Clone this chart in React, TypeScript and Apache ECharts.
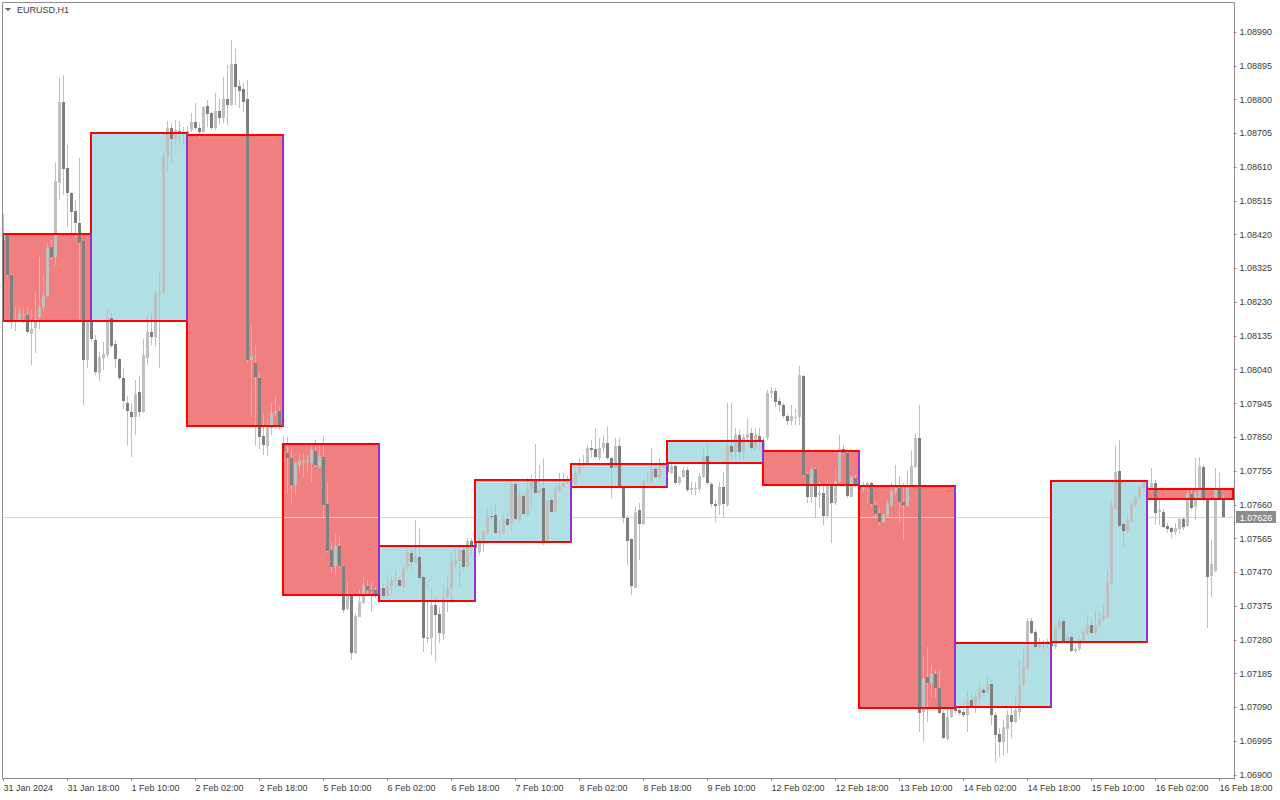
import React, { useEffect, useRef } from "react";
import * as echarts from "echarts";

// ---------- data ----------
const symbolTitle = "EURUSD,H1";
const dayNames = ["31 Jan", "1 Feb", "2 Feb", "5 Feb", "6 Feb", "7 Feb", "8 Feb", "9 Feb", "12 Feb", "13 Feb", "14 Feb", "15 Feb", "16 Feb"];
const dayFirstHour = [2, 0, 0, 0, 0, 0, 0, 0, 0, 0, 0, 0, 0];
const dayOpen = [1.08422, 1.08177, 1.087, 1.07831, 1.07389, 1.07555, 1.0771, 1.07778, 1.07811, 1.07713, 1.07091, 1.07274, 1.07704];
const dayClose = [1.08177, 1.08706, 1.07882, 1.07406, 1.07544, 1.0773, 1.07775, 1.0784, 1.07716, 1.07088, 1.07271, 1.07727, 1.07676];
const lastPrice = 1.07626;
const priceMin = 1.069;
const priceMax = 1.0899;
const priceStep = 0.00095;
const totalSlots = 308;
const labelEvery = 16;

// hourly bars: [open, close, low, high]
const bars31Jan = [
  [1.08405, 1.08425, 1.08399, 1.08478], [1.08419, 1.08306, 1.08301, 1.08425], [1.08306, 1.08177, 1.08155, 1.08312],
  [1.08177, 1.08183, 1.08149, 1.08216], [1.08177, 1.082, 1.08174, 1.08216], [1.08194, 1.08197, 1.08171, 1.08214],
  [1.08194, 1.08146, 1.08143, 1.08214], [1.08141, 1.08155, 1.08053, 1.08208], [1.08157, 1.08183, 1.08087, 1.08256],
  [1.08188, 1.08216, 1.08155, 1.08357], [1.08216, 1.08247, 1.08202, 1.08306], [1.08247, 1.08382, 1.08245, 1.08396],
  [1.08385, 1.08357, 1.08349, 1.08405], [1.08357, 1.08571, 1.08335, 1.08624], [1.08565, 1.08793, 1.08517, 1.08861],
  [1.08793, 1.08605, 1.08532, 1.08869], [1.08607, 1.08537, 1.08441, 1.08672], [1.08537, 1.08484, 1.08425, 1.0854],
  [1.08487, 1.08453, 1.08411, 1.08517], [1.08453, 1.08396, 1.0818, 1.08636], [1.08402, 1.08067, 1.07941, 1.08402],
  [1.08067, 1.08174, 1.08045, 1.08174],
];
const bars1Feb = [
  [1.08174, 1.08126, 1.08118, 1.08177], [1.08124, 1.08034, 1.08025, 1.08138], [1.08031, 1.08076, 1.08008, 1.0809],
  [1.08073, 1.08084, 1.08039, 1.08118], [1.08081, 1.08186, 1.08076, 1.08211], [1.08186, 1.08107, 1.08101, 1.082],
  [1.08112, 1.0807, 1.08045, 1.08124], [1.0807, 1.08017, 1.08011, 1.08073], [1.08017, 1.07952, 1.0793, 1.08045],
  [1.07946, 1.07924, 1.07825, 1.07966], [1.07921, 1.07907, 1.07795, 1.07946], [1.07907, 1.07972, 1.07856, 1.08011],
  [1.07977, 1.07921, 1.07907, 1.08022], [1.07921, 1.08081, 1.07918, 1.08126], [1.08073, 1.08146, 1.08053, 1.08191],
  [1.08146, 1.08132, 1.0811, 1.082], [1.08132, 1.08253, 1.08107, 1.08264], [1.08253, 1.08259, 1.08045, 1.08312],
  [1.08256, 1.08638, 1.08256, 1.08652], [1.08638, 1.0872, 1.08596, 1.0874], [1.0872, 1.08689, 1.08622, 1.08734],
  [1.08689, 1.08714, 1.08672, 1.08742], [1.08712, 1.08703, 1.08678, 1.0874], [1.08703, 1.08709, 1.08672, 1.08723],
];
const bars2Feb = [
  [1.087, 1.08712, 1.08683, 1.08726], [1.08714, 1.08737, 1.08709, 1.08762], [1.08737, 1.0872, 1.08714, 1.0879],
  [1.0872, 1.08709, 1.08692, 1.08734], [1.08709, 1.08779, 1.08706, 1.08782], [1.08782, 1.08759, 1.08723, 1.08799],
  [1.08762, 1.0872, 1.08714, 1.08765], [1.0872, 1.08768, 1.08714, 1.08818], [1.08768, 1.08748, 1.08731, 1.08804],
  [1.08748, 1.08802, 1.08734, 1.08863], [1.08802, 1.08785, 1.08728, 1.08897], [1.08785, 1.089, 1.08782, 1.08968],
  [1.089, 1.08835, 1.08785, 1.08942], [1.08838, 1.08824, 1.08776, 1.08855], [1.0883, 1.08793, 1.08765, 1.08847],
  [1.08802, 1.08067, 1.08059, 1.08855], [1.08067, 1.08079, 1.07907, 1.08166], [1.08059, 1.0802, 1.07825, 1.0811],
  [1.08017, 1.07851, 1.07817, 1.08031], [1.07854, 1.07828, 1.078, 1.07918], [1.07825, 1.07876, 1.07797, 1.07904],
  [1.07876, 1.07918, 1.07856, 1.07946], [1.07918, 1.07924, 1.07907, 1.07966], [1.07924, 1.07885, 1.0787, 1.07935],
];
const bars5Feb = [
  [1.07831, 1.07809, 1.07786, 1.07854], [1.07806, 1.07792, 1.07693, 1.07851], [1.07792, 1.07716, 1.07665, 1.07823],
  [1.07716, 1.07778, 1.07688, 1.0778], [1.07772, 1.07783, 1.07749, 1.07806], [1.0778, 1.07786, 1.07738, 1.07803],
  [1.07783, 1.07786, 1.07749, 1.078], [1.07778, 1.07814, 1.07724, 1.07828], [1.07811, 1.07772, 1.07766, 1.07842],
  [1.07766, 1.07797, 1.07764, 1.07828], [1.07795, 1.07659, 1.07626, 1.07854], [1.07662, 1.0753, 1.07527, 1.07721],
  [1.07533, 1.07485, 1.07468, 1.07555], [1.07488, 1.07544, 1.07463, 1.07581], [1.07544, 1.07488, 1.07485, 1.07569],
  [1.07488, 1.07364, 1.07356, 1.07491], [1.07367, 1.07406, 1.07364, 1.07443], [1.07406, 1.07243, 1.07223, 1.07412],
  [1.07243, 1.07347, 1.0724, 1.07356], [1.07344, 1.07387, 1.07344, 1.0742], [1.07384, 1.07434, 1.07381, 1.07457],
  [1.07432, 1.0742, 1.07406, 1.07449], [1.0742, 1.07418, 1.07358, 1.07443], [1.0742, 1.07409, 1.07398, 1.07429],
];
const bars6Feb = [
  [1.07395, 1.07426, 1.07384, 1.07434], [1.07426, 1.07403, 1.07398, 1.0744], [1.07403, 1.07432, 1.07401, 1.07454],
  [1.07429, 1.07449, 1.07412, 1.07463], [1.07446, 1.07454, 1.07426, 1.07477], [1.07449, 1.07432, 1.07429, 1.07457],
  [1.07429, 1.07482, 1.07426, 1.07491], [1.07485, 1.07527, 1.07477, 1.07533], [1.07524, 1.07499, 1.07477, 1.07533],
  [1.07499, 1.07513, 1.07496, 1.07617], [1.07513, 1.07454, 1.07449, 1.07592], [1.07457, 1.07285, 1.07246, 1.07463],
  [1.07282, 1.07288, 1.07271, 1.07392], [1.07285, 1.07378, 1.07237, 1.0742], [1.07378, 1.0735, 1.07218, 1.07401],
  [1.07353, 1.07299, 1.07271, 1.07372], [1.07297, 1.07398, 1.0728, 1.07429], [1.07398, 1.07426, 1.07358, 1.07457],
  [1.07426, 1.07499, 1.07384, 1.07527], [1.07494, 1.07505, 1.07485, 1.07533], [1.07502, 1.07533, 1.07429, 1.07541],
  [1.07533, 1.07485, 1.07477, 1.07547], [1.07485, 1.07558, 1.07482, 1.07567], [1.07558, 1.07547, 1.07519, 1.07567],
];
const bars7Feb = [
  [1.07555, 1.07539, 1.07527, 1.07567], [1.07527, 1.07561, 1.07519, 1.07569], [1.07555, 1.07584, 1.07527, 1.07589],
  [1.07581, 1.07626, 1.07581, 1.07654], [1.07629, 1.07626, 1.07617, 1.07654], [1.07631, 1.07581, 1.07578, 1.07659],
  [1.07581, 1.07584, 1.07567, 1.07617], [1.07581, 1.0762, 1.07578, 1.07631], [1.0762, 1.07603, 1.076, 1.07637],
  [1.07609, 1.07719, 1.07589, 1.07724], [1.07719, 1.0762, 1.07617, 1.07724], [1.07617, 1.07685, 1.07614, 1.07702],
  [1.07685, 1.07634, 1.07631, 1.07696], [1.07634, 1.07704, 1.07626, 1.07735], [1.07704, 1.07727, 1.07645, 1.07744],
  [1.07727, 1.07693, 1.07693, 1.07831], [1.07693, 1.07704, 1.0769, 1.07772], [1.07707, 1.07558, 1.07547, 1.07792],
  [1.07558, 1.07671, 1.07555, 1.07674], [1.07674, 1.0764, 1.07637, 1.07682], [1.0764, 1.07704, 1.07637, 1.07716],
  [1.07702, 1.07713, 1.07696, 1.07749], [1.0771, 1.07721, 1.07707, 1.07749], [1.07721, 1.0773, 1.07719, 1.07741],
];
const bars8Feb = [
  [1.07719, 1.07735, 1.07707, 1.07747], [1.07719, 1.07749, 1.07716, 1.07766], [1.07749, 1.07772, 1.07744, 1.07792],
  [1.07772, 1.07778, 1.07764, 1.078], [1.07778, 1.0782, 1.07772, 1.07828], [1.0782, 1.07814, 1.07792, 1.07842],
  [1.07817, 1.07795, 1.07792, 1.07876], [1.07792, 1.0782, 1.07786, 1.07848], [1.0782, 1.07834, 1.07806, 1.07856],
  [1.07834, 1.07792, 1.07786, 1.07882], [1.07792, 1.07764, 1.07679, 1.07795], [1.07764, 1.07825, 1.07764, 1.07848],
  [1.07825, 1.07707, 1.07707, 1.07848], [1.07707, 1.07623, 1.07609, 1.0771], [1.07623, 1.07558, 1.07491, 1.07631],
  [1.07564, 1.07432, 1.07406, 1.07567], [1.07426, 1.0764, 1.07426, 1.07654], [1.07645, 1.07606, 1.07505, 1.07665],
  [1.07606, 1.07727, 1.07603, 1.0773], [1.07724, 1.07727, 1.07721, 1.07749], [1.07724, 1.07761, 1.07721, 1.0782],
  [1.07761, 1.07738, 1.07735, 1.07766], [1.07738, 1.07769, 1.07735, 1.07792], [1.07766, 1.07775, 1.07764, 1.0778],
];
const bars9Feb = [
  [1.07778, 1.07752, 1.07747, 1.07783], [1.07749, 1.07769, 1.07747, 1.0778], [1.07769, 1.07721, 1.07716, 1.07772],
  [1.07721, 1.07738, 1.07716, 1.07741], [1.07738, 1.07758, 1.07735, 1.07766], [1.07758, 1.07702, 1.07696, 1.07766],
  [1.07702, 1.07707, 1.07688, 1.07724], [1.07704, 1.07707, 1.07688, 1.07724], [1.07704, 1.07741, 1.07696, 1.07749],
  [1.07738, 1.07795, 1.07735, 1.0782], [1.07797, 1.07721, 1.07716, 1.07834], [1.07719, 1.07662, 1.07654, 1.07724],
  [1.07662, 1.07657, 1.07612, 1.07674], [1.07659, 1.0771, 1.07631, 1.07724], [1.0771, 1.07662, 1.07626, 1.07752],
  [1.07659, 1.07825, 1.07654, 1.07946], [1.07825, 1.07809, 1.07786, 1.07946], [1.07809, 1.07856, 1.07792, 1.07876],
  [1.07856, 1.07809, 1.07786, 1.0787], [1.07809, 1.07851, 1.07786, 1.07859], [1.07848, 1.07859, 1.07842, 1.07904],
  [1.07862, 1.0782, 1.07814, 1.07876], [1.0782, 1.07856, 1.07814, 1.07876], [1.07854, 1.0784, 1.07814, 1.07876],
];
const bars12Feb = [
  [1.07811, 1.0784, 1.07806, 1.07851], [1.07848, 1.07975, 1.07842, 1.07983], [1.07975, 1.0798, 1.0796, 1.07991],
  [1.0798, 1.07949, 1.07935, 1.07989], [1.07952, 1.07941, 1.07921, 1.0796], [1.07941, 1.0791, 1.07904, 1.07946],
  [1.0791, 1.07896, 1.07885, 1.07915], [1.07896, 1.0791, 1.07885, 1.07941], [1.07904, 1.07907, 1.07885, 1.0793],
  [1.07907, 1.08025, 1.07885, 1.0805], [1.08022, 1.07744, 1.07738, 1.08025], [1.07747, 1.07682, 1.07665, 1.07752],
  [1.07682, 1.07761, 1.07665, 1.07766], [1.07761, 1.07682, 1.07623, 1.07766], [1.07688, 1.07693, 1.07651, 1.07724],
  [1.07693, 1.07629, 1.07603, 1.07716], [1.07629, 1.07716, 1.07626, 1.0773], [1.07713, 1.07665, 1.07553, 1.07721],
  [1.07665, 1.07727, 1.07659, 1.07766], [1.07724, 1.07817, 1.07721, 1.07856], [1.07817, 1.07806, 1.078, 1.07828],
  [1.07806, 1.07685, 1.07679, 1.07814], [1.07682, 1.07738, 1.07682, 1.07744], [1.07735, 1.07716, 1.0771, 1.07744],
];
const bars13Feb = [
  [1.07713, 1.07704, 1.07702, 1.07724], [1.07704, 1.0771, 1.07696, 1.07724], [1.0771, 1.07721, 1.07665, 1.07724],
  [1.07721, 1.07662, 1.07654, 1.07724], [1.07659, 1.07634, 1.07626, 1.07668], [1.07637, 1.07612, 1.07603, 1.07651],
  [1.07612, 1.07631, 1.07609, 1.07637], [1.07629, 1.07665, 1.07626, 1.07674], [1.07659, 1.07699, 1.07654, 1.07721],
  [1.07696, 1.07707, 1.07688, 1.07772], [1.07707, 1.07668, 1.07612, 1.07741], [1.07668, 1.07659, 1.07561, 1.07721],
  [1.07657, 1.0771, 1.07654, 1.07755], [1.0771, 1.07769, 1.07707, 1.07814], [1.07766, 1.07848, 1.07764, 1.07862],
  [1.07848, 1.07074, 1.07021, 1.07941], [1.07077, 1.0717, 1.06993, 1.07232], [1.07176, 1.07159, 1.07049, 1.0726],
  [1.07159, 1.07184, 1.07119, 1.07215], [1.07184, 1.07145, 1.07116, 1.07195], [1.07145, 1.07074, 1.07071, 1.07195],
  [1.07074, 1.07004, 1.07001, 1.07083], [1.07001, 1.07063, 1.06998, 1.07091], [1.07063, 1.07086, 1.0706, 1.07094],
];
const bars14Feb = [
  [1.07091, 1.0708, 1.07074, 1.071], [1.07083, 1.07074, 1.07069, 1.07088], [1.07077, 1.07069, 1.07063, 1.07102],
  [1.07069, 1.07108, 1.07021, 1.07139], [1.07111, 1.07094, 1.07088, 1.07131], [1.07094, 1.07119, 1.07074, 1.07131],
  [1.07114, 1.07142, 1.07088, 1.07159], [1.07139, 1.07131, 1.07125, 1.07147], [1.07133, 1.07159, 1.07131, 1.07181],
  [1.07156, 1.07069, 1.07041, 1.07167], [1.07069, 1.07012, 1.06936, 1.07077], [1.07015, 1.06993, 1.06951, 1.07032],
  [1.06993, 1.07035, 1.06956, 1.07055], [1.07029, 1.07069, 1.06962, 1.07083], [1.07069, 1.07049, 1.07004, 1.07091],
  [1.07049, 1.07083, 1.07046, 1.07119], [1.07077, 1.07153, 1.0706, 1.07223], [1.07153, 1.07206, 1.0715, 1.0726],
  [1.07198, 1.07333, 1.07195, 1.07342], [1.07333, 1.07299, 1.07297, 1.07342], [1.07302, 1.0726, 1.07254, 1.07308],
  [1.0726, 1.07274, 1.07254, 1.07285], [1.07268, 1.07271, 1.07251, 1.0728], [1.07268, 1.07277, 1.07257, 1.07282],
];
const bars15Feb = [
  [1.07274, 1.07263, 1.07257, 1.0728], [1.0726, 1.07313, 1.07254, 1.07319], [1.07313, 1.07333, 1.07308, 1.07344],
  [1.07333, 1.07274, 1.07271, 1.07342], [1.07274, 1.07288, 1.07271, 1.07299], [1.07288, 1.07249, 1.07246, 1.07294],
  [1.07249, 1.07254, 1.07243, 1.07263], [1.07254, 1.07282, 1.07249, 1.07288], [1.0728, 1.07302, 1.07274, 1.07308],
  [1.07299, 1.07322, 1.07294, 1.0735], [1.07322, 1.07299, 1.07297, 1.07342], [1.07299, 1.07322, 1.07297, 1.07364],
  [1.07322, 1.07339, 1.07316, 1.07356], [1.07336, 1.07347, 1.0733, 1.07384], [1.07344, 1.07443, 1.07342, 1.07477],
  [1.07437, 1.07659, 1.07434, 1.07674], [1.07648, 1.07752, 1.07645, 1.07825], [1.07755, 1.076, 1.07598, 1.07842],
  [1.07606, 1.07586, 1.07541, 1.07609], [1.07586, 1.07617, 1.07581, 1.07631], [1.07614, 1.07662, 1.07612, 1.07668],
  [1.07659, 1.07682, 1.07657, 1.07688], [1.07682, 1.0771, 1.07679, 1.07716], [1.07707, 1.07724, 1.07704, 1.0773],
];
const bars16Feb = [
  [1.07704, 1.07713, 1.07696, 1.07727], [1.07707, 1.07721, 1.07696, 1.07764], [1.07721, 1.07637, 1.07603, 1.0773],
  [1.0764, 1.07645, 1.07603, 1.07679], [1.0764, 1.07598, 1.07595, 1.07648], [1.076, 1.07592, 1.07581, 1.07609],
  [1.07595, 1.07584, 1.07567, 1.07598], [1.07584, 1.07595, 1.07575, 1.07609], [1.07592, 1.0762, 1.07581, 1.07623],
  [1.0762, 1.07598, 1.07589, 1.07626], [1.076, 1.07693, 1.07598, 1.07702], [1.0769, 1.07651, 1.07645, 1.07702],
  [1.07654, 1.07693, 1.07617, 1.07792], [1.07679, 1.07769, 1.07674, 1.07795], [1.07766, 1.07679, 1.07668, 1.07772],
  [1.07679, 1.07457, 1.07313, 1.07682], [1.0746, 1.07494, 1.07401, 1.07561], [1.07474, 1.07702, 1.07471, 1.07764],
  [1.07702, 1.07676, 1.07674, 1.07749], [1.07676, 1.07626, 1.07623, 1.07688],
];
const hourlyByDay = [bars31Jan, bars1Feb, bars2Feb, bars5Feb, bars6Feb, bars7Feb, bars8Feb, bars9Feb, bars12Feb, bars13Feb, bars14Feb, bars15Feb, bars16Feb];

// ---------- colours ----------
const C = {
  bullBody: "#c0c0c0",
  bearBody: "#7f7f7f",
  wick: "#c0c0c0",
  bearBox: "#f08080",
  bullBox: "#b0e0e6",
  boxBorder: "#ff0000",
  dayEnd: "#9932cc",
  priceLine: "#d6d6d6",
  priceTag: "#8c8c8c",
  frame: "#8c8c8c",
  text: "#3a3a3a",
};
const FONT = '"Liberation Sans", Arial, sans-serif';

function buildSeriesData() {
  const candles: number[][] = [];
  const boxes: number[][] = [];
  const categories: string[] = [];
  let idx = 0;
  hourlyByDay.forEach((bars, d) => {
    boxes.push([idx, 0, dayOpen[d], dayClose[d]]);
    bars.forEach((b, k) => {
      candles.push([idx, b[0], b[1], b[2], b[3]]);
      const hh = dayFirstHour[d] + k;
      categories.push(idx === 0 ? `${dayNames[d]} 2024` : `${dayNames[d]} ${String(hh).padStart(2, "0")}:00`);
      idx++;
    });
  });
  const lastDay = dayNames.length - 1;
  let hh = dayFirstHour[lastDay] + hourlyByDay[lastDay].length;
  while (categories.length < totalSlots) {
    categories.push(`${dayNames[lastDay]} ${String(hh).padStart(2, "0")}:00`);
    hh++;
  }
  for (let i = 0; i < boxes.length; i++) {
    boxes[i][1] = i + 1 < boxes.length ? boxes[i + 1][0] : totalSlots - 0.5;
  }
  return { candles, boxes, categories };
}

export default function App() {
  const ref = useRef<HTMLDivElement>(null);
  useEffect(() => {
    document.body.style.margin = "0";
    if (!ref.current) return;
    const chart = echarts.init(ref.current, null, { renderer: "svg" });
    const { candles, boxes, categories } = buildSeriesData();
    const lastBox = boxes.length - 1;

    const boxGeom = (api: any) => {
      const s = api.value(0);
      const e = api.value(1);
      const o = api.value(2);
      const c = api.value(3);
      const band = api.size([1, 0])[0];
      const x1 = Math.floor(api.coord([Math.floor(s), o])[0] + (s - Math.floor(s)) * band);
      const x2 = Math.floor(api.coord([Math.floor(e), o])[0] + (e - Math.floor(e)) * band);
      const yo = Math.round(api.coord([Math.floor(s), o])[1]);
      const yc = Math.round(api.coord([Math.floor(s), c])[1]);
      return { x1, x2, yo, yc, bull: c >= o };
    };

    const option: any = {
      animation: false,
      backgroundColor: "#ffffff",
      grid: { left: 1.5, top: 32, width: 1232, height: 743, containLabel: false },
      xAxis: {
        type: "category",
        data: categories,
        boundaryGap: true,
        offset: 3,
        axisLine: { show: false },
        axisTick: {
          show: true,
          alignWithLabel: true,
          interval: (i: number) => i % labelEvery === 0,
          length: 3,
          lineStyle: { color: C.frame },
        },
        axisLabel: {
          interval: (i: number) => i % labelEvery === 0,
          align: "left",
          fontSize: 9,
          fontFamily: FONT,
          color: C.text,
          margin: 5,
        },
        splitLine: { show: false },
      },
      yAxis: {
        type: "value",
        position: "right",
        min: priceMin,
        max: priceMax,
        interval: priceStep,
        axisLine: { show: false },
        axisTick: { show: true, length: 3, lineStyle: { color: C.frame } },
        axisLabel: {
          formatter: (v: number) => v.toFixed(5),
          fontSize: 9,
          fontFamily: FONT,
          color: C.text,
          margin: 6,
        },
        splitLine: { show: false },
      },
      series: [
        {
          type: "custom",
          name: "dayFill",
          z: 1,
          data: boxes,
          encode: { x: 0, y: [2, 3] },
          renderItem: (params: any, api: any) => {
            const g = boxGeom(api);
            return {
              type: "rect",
              shape: { x: g.x1, y: Math.min(g.yo, g.yc), width: g.x2 - g.x1, height: Math.abs(g.yc - g.yo) },
              style: { fill: g.bull ? C.bullBox : C.bearBox },
            };
          },
        },
        {
          type: "custom",
          name: "bidLine",
          z: 2,
          data: [[0, lastPrice]],
          encode: { x: 0, y: 1 },
          renderItem: (params: any, api: any) => {
            const cs = params.coordSys;
            const y = Math.round(api.coord([0, api.value(1)])[1]) + 0.5;
            const right = cs.x + cs.width;
            return {
              type: "group",
              children: [
                {
                  type: "line",
                  shape: { x1: 2, y1: y, x2: right, y2: y },
                  style: { stroke: C.priceLine, lineWidth: 1 },
                },
                {
                  type: "rect",
                  shape: { x: right + 2.5, y: y - 6.5, width: 40, height: 12 },
                  style: { fill: C.priceTag },
                },
                {
                  type: "text",
                  x: right + 22.5,
                  y: y,
                  style: {
                    text: api.value(1).toFixed(5),
                    fill: "#ffffff",
                    fontSize: 9,
                    fontFamily: FONT,
                    align: "center",
                    verticalAlign: "middle",
                  },
                },
              ],
            };
          },
        },
        {
          type: "custom",
          name: "candles",
          z: 3,
          data: candles,
          encode: { x: 0, y: [1, 2, 3, 4] },
          renderItem: (params: any, api: any) => {
            const j = api.value(0);
            const o = api.value(1);
            const c = api.value(2);
            const l = api.value(3);
            const h = api.value(4);
            const [x, yo] = api.coord([j, o]);
            const yc = api.coord([j, c])[1];
            const yl = api.coord([j, l])[1];
            const yh = api.coord([j, h])[1];
            const cx = Math.round(x - 0.5) + 0.5;
            const top = Math.round(Math.min(yo, yc));
            const bot = Math.round(Math.max(yo, yc));
            return {
              type: "group",
              children: [
                {
                  type: "line",
                  shape: { x1: cx, y1: Math.round(yh), x2: cx, y2: Math.round(yl) },
                  style: { stroke: C.wick, lineWidth: 1 },
                },
                {
                  type: "rect",
                  shape: { x: cx - 1.5, y: top, width: 3, height: Math.max(1, bot - top) },
                  style: { fill: c >= o ? C.bullBody : C.bearBody },
                },
              ],
            };
          },
        },
        {
          type: "custom",
          name: "dayBorder",
          z: 4,
          data: boxes,
          encode: { x: 0, y: [2, 3] },
          renderItem: (params: any, api: any) => {
            const g = boxGeom(api);
            return {
              type: "rect",
              shape: { x: g.x1, y: Math.min(g.yo, g.yc), width: g.x2 - g.x1, height: Math.abs(g.yc - g.yo) },
              style: { fill: "none", stroke: C.boxBorder, lineWidth: 2 },
            };
          },
        },
        {
          type: "custom",
          name: "dayEnd",
          z: 5,
          data: boxes,
          encode: { x: 0, y: [2, 3] },
          renderItem: (params: any, api: any) => {
            if (params.dataIndex === lastBox) return null;
            const g = boxGeom(api);
            return {
              type: "line",
              shape: { x1: g.x2, y1: g.yo, x2: g.x2, y2: g.yc },
              style: { stroke: C.dayEnd, lineWidth: 2 },
            };
          },
        },
      ],
      graphic: [
        {
          type: "rect",
          z: 10,
          silent: true,
          shape: { x: 2.5, y: 2.5, width: 1232, height: 776 },
          style: { fill: "none", stroke: C.frame, lineWidth: 1 },
        },
        {
          type: "polygon",
          z: 10,
          silent: true,
          shape: { points: [[5, 8], [11, 8], [8, 11]] },
          style: { fill: "#555555" },
        },
        {
          type: "text",
          z: 10,
          silent: true,
          x: 17,
          y: 10,
          style: { text: symbolTitle, fontSize: 9, fontFamily: FONT, fill: C.text, verticalAlign: "middle", align: "left" },
        },
      ],
    };
    chart.setOption(option);
    return () => chart.dispose();
  }, []);
  return <div ref={ref} style={{ width: 1280, height: 800 }} />;
}
